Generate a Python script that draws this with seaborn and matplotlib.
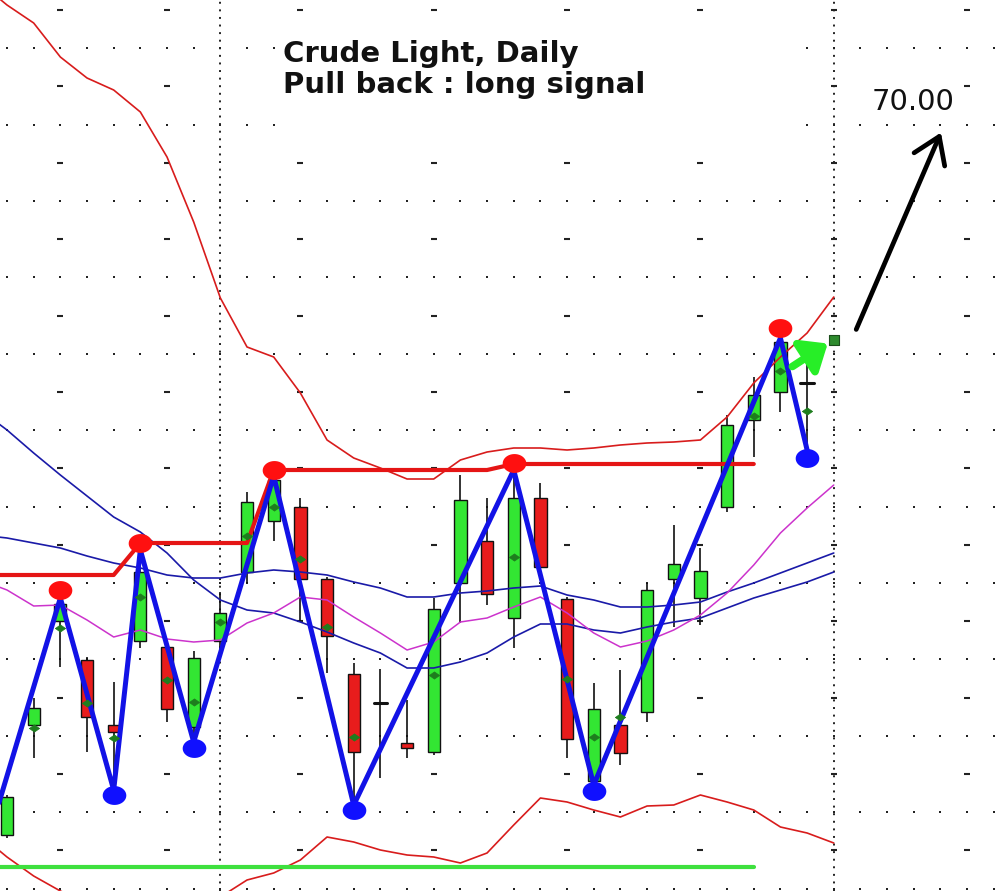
import numpy as np
import matplotlib
matplotlib.use("Agg")
import matplotlib.pyplot as plt
from matplotlib.patches import Rectangle
from matplotlib.path import Path
import seaborn as sns

# ---------------- data (prices) ----------------
bar_idx = list(range(31))
opens  = [60.65, 61.75, 62.79, 62.40, 61.75, 62.59, 62.53, 61.73, 62.59, 63.28,
          63.79, 63.93, 63.21, 62.26, 61.97, 61.57, 61.48, 63.17, 63.59, 62.82,
          64.02, 63.01, 61.19, 61.75, 61.88, 63.21, 63.02, 63.93, 64.80, 65.08, 65.17]
highs  = [61.05, 62.02, 63.02, 62.43, 62.18, 63.50, 62.57, 62.49, 63.08, 64.08,
          64.24, 64.02, 63.23, 62.37, 62.31, 62.00, 63.02, 64.25, 64.02, 64.30,
          64.17, 63.03, 62.17, 62.30, 63.17, 63.75, 63.52, 64.85, 65.23, 65.62, 65.38]
lows   = [60.62, 61.42, 62.33, 61.48, 61.10, 62.52, 61.78, 61.58, 62.50, 63.17,
          63.59, 62.78, 62.27, 60.95, 61.22, 61.42, 61.45, 62.77, 62.95, 62.52,
          63.31, 61.42, 61.15, 61.35, 61.78, 62.73, 62.75, 63.88, 64.43, 64.88, 64.50]
closes = [61.03, 61.92, 62.96, 61.83, 61.68, 63.28, 61.91, 62.42, 62.87, 63.98,
          64.20, 63.21, 62.64, 61.48, 61.97, 61.52, 62.91, 64.00, 63.06, 64.02,
          63.33, 61.61, 61.91, 61.47, 63.10, 63.36, 63.29, 64.75, 65.05, 65.58, 65.17]

diamond_idx = [1, 2, 3, 4, 5, 6, 7, 8, 9, 10, 11, 12, 13, 16, 19, 21, 22, 23, 28, 29, 30]
diamond_val = [61.72, 62.72, 61.97, 61.62, 63.03, 62.20, 61.98, 62.78, 63.64, 63.93, 63.41,
               62.73, 61.63, 62.25, 63.43, 62.21, 61.63, 61.83, 64.84, 65.29, 64.89]

# indicator lines (one value per bar, -1 .. 31)
line_idx = list(range(-1, 32))
upper_band = [69.17, 68.95, 68.77, 68.43, 68.22, 68.10, 67.88, 67.43, 66.78, 66.02, 65.53,
              65.43, 65.07, 64.60, 64.42, 64.32, 64.21, 64.21, 64.40, 64.48, 64.52,
              64.52, 64.50, 64.52, 64.55, 64.57, 64.58, 64.60, 64.83, 65.17, 65.43, 65.67, 66.03]
lower_band = [60.65, 60.43, 60.24, 60.09, 59.97, 59.88, 59.85, 59.88, 59.95, 60.03, 60.20,
              60.27, 60.40, 60.63, 60.58, 60.50, 60.45, 60.43, 60.37, 60.47, 60.75,
              61.02, 60.98, 60.90, 60.83, 60.94, 60.95, 61.05, 60.98, 60.90, 60.73, 60.67, 60.57]
ma_slow = [64.90, 64.70, 64.47, 64.25, 64.04, 63.83, 63.68, 63.47, 63.20, 63.00, 62.90,
           62.87, 62.78, 62.68, 62.57, 62.47, 62.32, 62.32, 62.38, 62.47, 62.63,
           62.76, 62.76, 62.70, 62.67, 62.73, 62.78, 62.82, 62.92, 63.02, 63.10, 63.18, 63.28]
ma_mid = [63.65, 63.62, 63.57, 63.52, 63.44, 63.37, 63.32, 63.25, 63.22, 63.22, 63.27,
          63.30, 63.28, 63.25, 63.18, 63.12, 63.03, 63.03, 63.07, 63.09, 63.12,
          63.14, 63.05, 63.00, 62.93, 62.93, 62.95, 62.98, 63.08, 63.17, 63.27, 63.37, 63.47]
ma_fast = [63.20, 63.10, 62.94, 62.95, 62.80, 62.63, 62.70, 62.61, 62.58, 62.60, 62.77,
           62.87, 63.03, 63.00, 62.83, 62.67, 62.50, 62.58, 62.78, 62.82, 62.93,
           63.03, 62.87, 62.67, 62.53, 62.59, 62.70, 62.85, 63.07, 63.35, 63.67, 63.92, 64.15]

# resistance step line (last swing high) and support line
resist_idx = list(range(-1, 29))
resist_val = [63.25] * 6 + [63.57] * 5 + [64.30] * 9 + [64.36] * 10
support_idx = [-1, 28]
support_val = [60.33, 60.33]

# zigzag swing pivots
zig_idx = [-1, 2, 4, 5, 7, 10, 13, 19, 22, 29, 30]
zig_val = [60.35, 63.02, 61.10, 63.50, 61.58, 64.24, 60.95, 64.30, 61.15, 65.62, 64.50]
swing_high_idx = [2, 5, 10, 19, 29]
swing_high_val = [63.10, 63.57, 64.30, 64.37, 65.72]
swing_low_idx = [4, 7, 13, 22, 30]
swing_low_val = [61.05, 61.52, 60.90, 61.09, 64.42]

month_breaks = [8, 31]
week_ticks = [2, 6, 11, 16, 21, 26, 31, 36]

signal_from = (29.36, 65.32)
signal_to = (30.86, 65.58)
signal_box = (31.0, 65.60)
target_from = (31.8, 65.68)
target_to = (35.06, 67.70)
target_label = "70.00"

title1 = "Crude Light, Daily"
title2 = "Pull back : long signal"

# ---------------- drawing ----------------
sns.set_style("white")
plt.rcParams["font.family"] = ["DejaVu Sans"]

fig = plt.figure(figsize=(10.01, 8.91), dpi=100)
ax = fig.add_axes([0, 0, 1, 1])
ax.set_xlim(-0.2625, 37.27)
ax.set_ylim(60.09, 69.00)
ax.axis("off")

# dotted background grid
grid_y = 68.90 - 0.382 * np.arange(24)
major_rows = grid_y[1::2]
minor_rows = grid_y[0::2]
gx = np.arange(0, 38)
for yv in major_rows:
    ax.scatter(gx, np.full(len(gx), yv), marker="s", s=2.2, color="#222222",
               linewidths=0, zorder=0.5)
for yv in minor_rows:
    ax.scatter(week_ticks, np.full(len(week_ticks), yv), marker="_", s=14,
               color="#222222", linewidths=1.5, zorder=0.5)
for xb in month_breaks:
    ax.axvline(xb, color="#222222", lw=1.4, ls=(0, (1, 2.9)), zorder=0.6)

# white area behind title
ax.add_patch(Rectangle((10.16, 67.60), 19.58, 1.12, facecolor="white",
                       edgecolor="none", zorder=0.8))

# candles
body_w = 0.46
for i, o, h, l, c in zip(bar_idx, opens, highs, lows, closes):
    ax.plot([i, i], [l, h], color="#111111", lw=1.2, zorder=2, solid_capstyle="butt")
    if abs(c - o) < 1e-6:
        ax.plot([i - 0.25, i + 0.25], [o, o], color="#111111", lw=2.2, zorder=2.1)
    else:
        col = "#33e633" if c > o else "#e81c1c"
        ax.add_patch(Rectangle((i - body_w / 2, min(o, c)), body_w, abs(c - o),
                               facecolor=col, edgecolor="#111111", lw=1.0, zorder=2.1))

# indicator lines
sns.lineplot(x=line_idx, y=upper_band, ax=ax, color="#d81c1c", lw=1.2, sort=False, zorder=3)
sns.lineplot(x=line_idx, y=lower_band, ax=ax, color="#d81c1c", lw=1.2, sort=False, zorder=3)
sns.lineplot(x=line_idx, y=ma_slow, ax=ax, color="#1a1aa8", lw=1.2, sort=False, zorder=3)
sns.lineplot(x=line_idx, y=ma_mid, ax=ax, color="#1a1aa8", lw=1.2, sort=False, zorder=3)
sns.lineplot(x=line_idx, y=ma_fast, ax=ax, color="#cc33cc", lw=1.1, sort=False, zorder=3)

sns.lineplot(x=resist_idx, y=resist_val, ax=ax, color="#e51515", lw=3.0, sort=False, zorder=3.5)
sns.lineplot(x=support_idx, y=support_val, ax=ax, color="#3ee03e", lw=3.0, sort=False, zorder=3.5)

sns.lineplot(x=zig_idx, y=zig_val, ax=ax, color="#1212e6", lw=3.6, sort=False, zorder=4)

# diamonds
dia = Path([(-1, 0), (0, 0.7), (1, 0), (0, -0.7), (-1, 0)])
sns.scatterplot(x=diamond_idx, y=diamond_val, ax=ax, marker=dia, s=55,
                color="#1e7d1e", edgecolor="#1e7d1e", linewidth=0.5, zorder=5)

# swing dots
t = np.linspace(0, 2 * np.pi, 40)
ell = Path(np.column_stack([np.cos(t), 0.8 * np.sin(t)]))
sns.scatterplot(x=swing_high_idx, y=swing_high_val, ax=ax, marker=ell, s=290,
                color="#ff1010", linewidth=0, zorder=6)
sns.scatterplot(x=swing_low_idx, y=swing_low_val, ax=ax, marker=ell, s=290,
                color="#1010ff", linewidth=0, zorder=6)

# signal arrow and target arrow
ax.annotate("", xy=signal_to, xytext=signal_from,
            arrowprops=dict(arrowstyle="-|>,head_length=0.6,head_width=0.5",
                            color="#27ee27", lw=5.5, mutation_scale=24), zorder=7)
ax.scatter([signal_box[0]], [signal_box[1]], marker="s", s=55, color="#2e8b2e",
           edgecolors="#1b4d1b", linewidths=0.8, zorder=8)
ax.annotate("", xy=target_to, xytext=target_from,
            arrowprops=dict(arrowstyle="->,head_length=0.9,head_width=0.6",
                            color="black", lw=3.4, mutation_scale=20), zorder=7)

ax.text(33.97, 67.90, target_label, fontsize=21, color="#111111",
        ha="center", va="baseline", zorder=9)
ax.text(10.35, 68.38, title1, fontsize=21, fontweight="bold", color="#111111",
        ha="left", va="baseline", zorder=9)
ax.text(10.35, 68.07, title2, fontsize=21, fontweight="bold", color="#111111",
        ha="left", va="baseline", zorder=9)

fig.savefig("out.png", dpi=100)
